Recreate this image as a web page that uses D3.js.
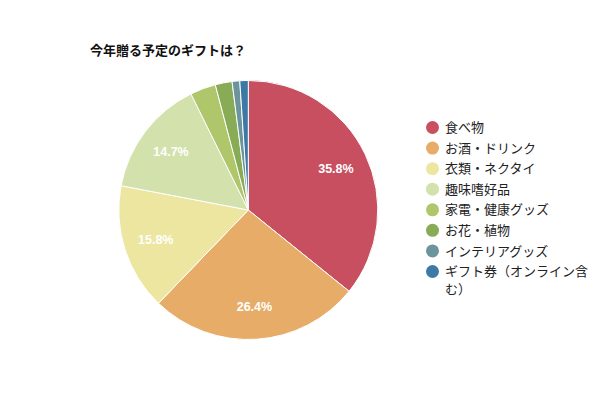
<!DOCTYPE html>
<html><head><meta charset="utf-8">
<script src="https://cdn.jsdelivr.net/npm/d3@7"></script>
<style>
html,body{margin:0;padding:0;background:#fff;}
svg{display:block;}
</style>
</head><body>
<svg id="chart" width="600" height="400"></svg>
<script>
const title = "今年贈る予定のギフトは？";
const categories = ["食べ物","お酒・ドリンク","衣類・ネクタイ","趣味嗜好品","家電・健康グッズ","お花・植物","インテリアグッズ","ギフト券（オンライン含む）"];
const values = [35.8, 26.4, 15.8, 14.7, 3.2, 2.1, 0.95, 1.05];
const colors = ["#c84f5f","#e8ac69","#ede6a1","#d3e1ad","#afc76a","#88ab55","#6b949c","#3d79a5"];

const svg = d3.select("#chart");
const cx = 248.3, cy = 210, R = 129.5;
const jp = "'Noto Sans CJK JP','Hiragino Sans',sans-serif";

svg.append("text").attr("x", 90).attr("y", 55)
  .attr("font-family", jp).attr("font-weight", "bold").attr("font-size", 13)
  .attr("fill", "#111").text(title);

const data = categories.map((c, i) => ({cat: c, value: values[i], color: colors[i]}));
const pie = d3.pie().value(d => d.value).sort(null);
const arc = d3.arc().innerRadius(0).outerRadius(R);
const labelArc = d3.arc().innerRadius(R * 0.75).outerRadius(R * 0.75);
const arcs = pie(data);

const g = svg.append("g").attr("transform", `translate(${cx},${cy})`);
g.selectAll("path").data(arcs).enter().append("path")
  .attr("d", arc).attr("fill", d => d.data.color)
  .attr("stroke", "#fff").attr("stroke-width", 1);

g.selectAll("text.lbl").data(arcs.filter(d => d.data.value >= 5)).enter().append("text")
  .attr("class", "lbl")
  .attr("transform", d => `translate(${labelArc.centroid(d)})`)
  .attr("text-anchor", "middle").attr("dy", "0.36em")
  .attr("font-family", "'Liberation Sans',Arial,sans-serif").attr("font-size", 12.5)
  .attr("font-weight", "bold")
  .attr("fill", "#fff").text(d => d.data.value.toFixed(1) + "%");

const legend = svg.append("g");
const ly = d3.scalePoint().domain(categories).range([127.5, 271.5]);
const items = legend.selectAll("g").data(data).enter().append("g")
  .attr("transform", d => `translate(0,${ly(d.cat)})`);
items.append("circle").attr("cx", 432.5).attr("cy", 0).attr("r", 6.5).attr("fill", d => d.color);
items.append("text").attr("x", 445).attr("y", 0)
  .attr("font-family", jp).attr("font-size", 13).attr("fill", "#222")
  .each(function(d) {
    const t = d3.select(this);
    const maxW = 148;
    const chars = Array.from(d.cat);
    let line = "";
    let tspan = t.append("tspan").attr("x", 445).attr("dy", "0.36em");
    for (const ch of chars) {
      tspan.text(line + ch);
      if (tspan.node().getComputedTextLength() > maxW && line.length) {
        tspan.text(line);
        line = ch;
        tspan = t.append("tspan").attr("x", 445).attr("dy", 18).text(ch);
      } else {
        line += ch;
      }
    }
  });
</script>
</body></html>
